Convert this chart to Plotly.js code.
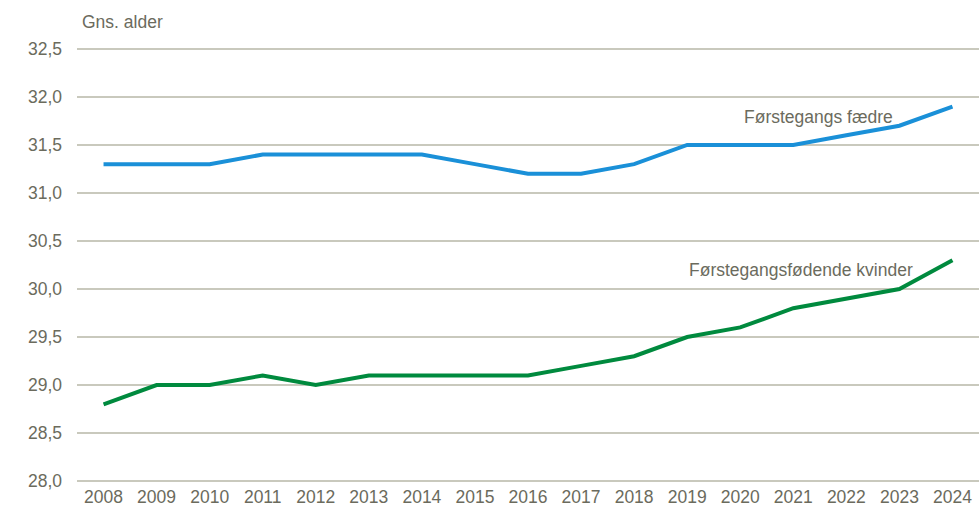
<!DOCTYPE html>
<html><head><meta charset="utf-8">
<script src="https://cdn.plot.ly/plotly-3.0.1.min.js"></script>
<style>body{margin:0;background:#fff}#chart{width:979px;height:517px}</style>
</head><body><div id="chart"></div>
<script>
const years = ["2008","2009","2010","2011","2012","2013","2014","2015","2016","2017","2018","2019","2020","2021","2022","2023","2024"];
const fathers = [31.3,31.3,31.3,31.4,31.4,31.4,31.4,31.3,31.2,31.2,31.3,31.5,31.5,31.5,31.6,31.7,31.9];
const mothers = [28.8,29.0,29.0,29.1,29.0,29.1,29.1,29.1,29.1,29.2,29.3,29.5,29.6,29.8,29.9,30.0,30.3];
const yTicks = [28.0,28.5,29.0,29.5,30.0,30.5,31.0,31.5,32.0,32.5];
const yTickText = yTicks.map(v => v.toFixed(1).replace('.', ','));
const txt = '#6b6b5d';
const font = {family:'Liberation Sans, Arial, sans-serif', size:17.5, color:txt};
const traces = [
  {x:years, y:fathers, type:'scatter', mode:'lines', name:'Førstegangs fædre', line:{color:'#1a90d8', width:4}},
  {x:years, y:mothers, type:'scatter', mode:'lines', name:'Førstegangsfødende kvinder', line:{color:'#008a3e', width:4}}
];
const layout = {
  width:979, height:517,
  margin:{l:77, r:0, t:46, b:33},
  paper_bgcolor:'#fff', plot_bgcolor:'#fff',
  showlegend:false, font:font,
  xaxis:{type:'category', range:[-0.5,16.5], showgrid:false, zeroline:false, showline:false, ticks:'', tickfont:font, fixedrange:true},
  yaxis:{range:[27.97,32.53], tickvals:yTicks, ticktext:yTickText, showgrid:true, gridcolor:'#c9c9bd', gridwidth:1.3, zeroline:false, showline:false, ticks:'', ticklabelstandoff:14, tickfont:font, fixedrange:true},
  annotations:[
    {xref:'paper', yref:'paper', x:0.003, y:1.0, yshift:24, xanchor:'left', yanchor:'middle', text:'Gns. alder', showarrow:false, font:font},
    {xref:'x', yref:'y', x:14, y:31.79, xanchor:'center', yanchor:'middle', xshift:-28, text:'Førstegangs fædre', showarrow:false, font:font},
    {xref:'x', yref:'y', x:13, y:30.2, xanchor:'center', yanchor:'middle', xshift:8, text:'Førstegangsfødende kvinder', showarrow:false, font:font}
  ]
};
Plotly.newPlot('chart', traces, layout, {displayModeBar:false, staticPlot:true});
</script></body></html>
